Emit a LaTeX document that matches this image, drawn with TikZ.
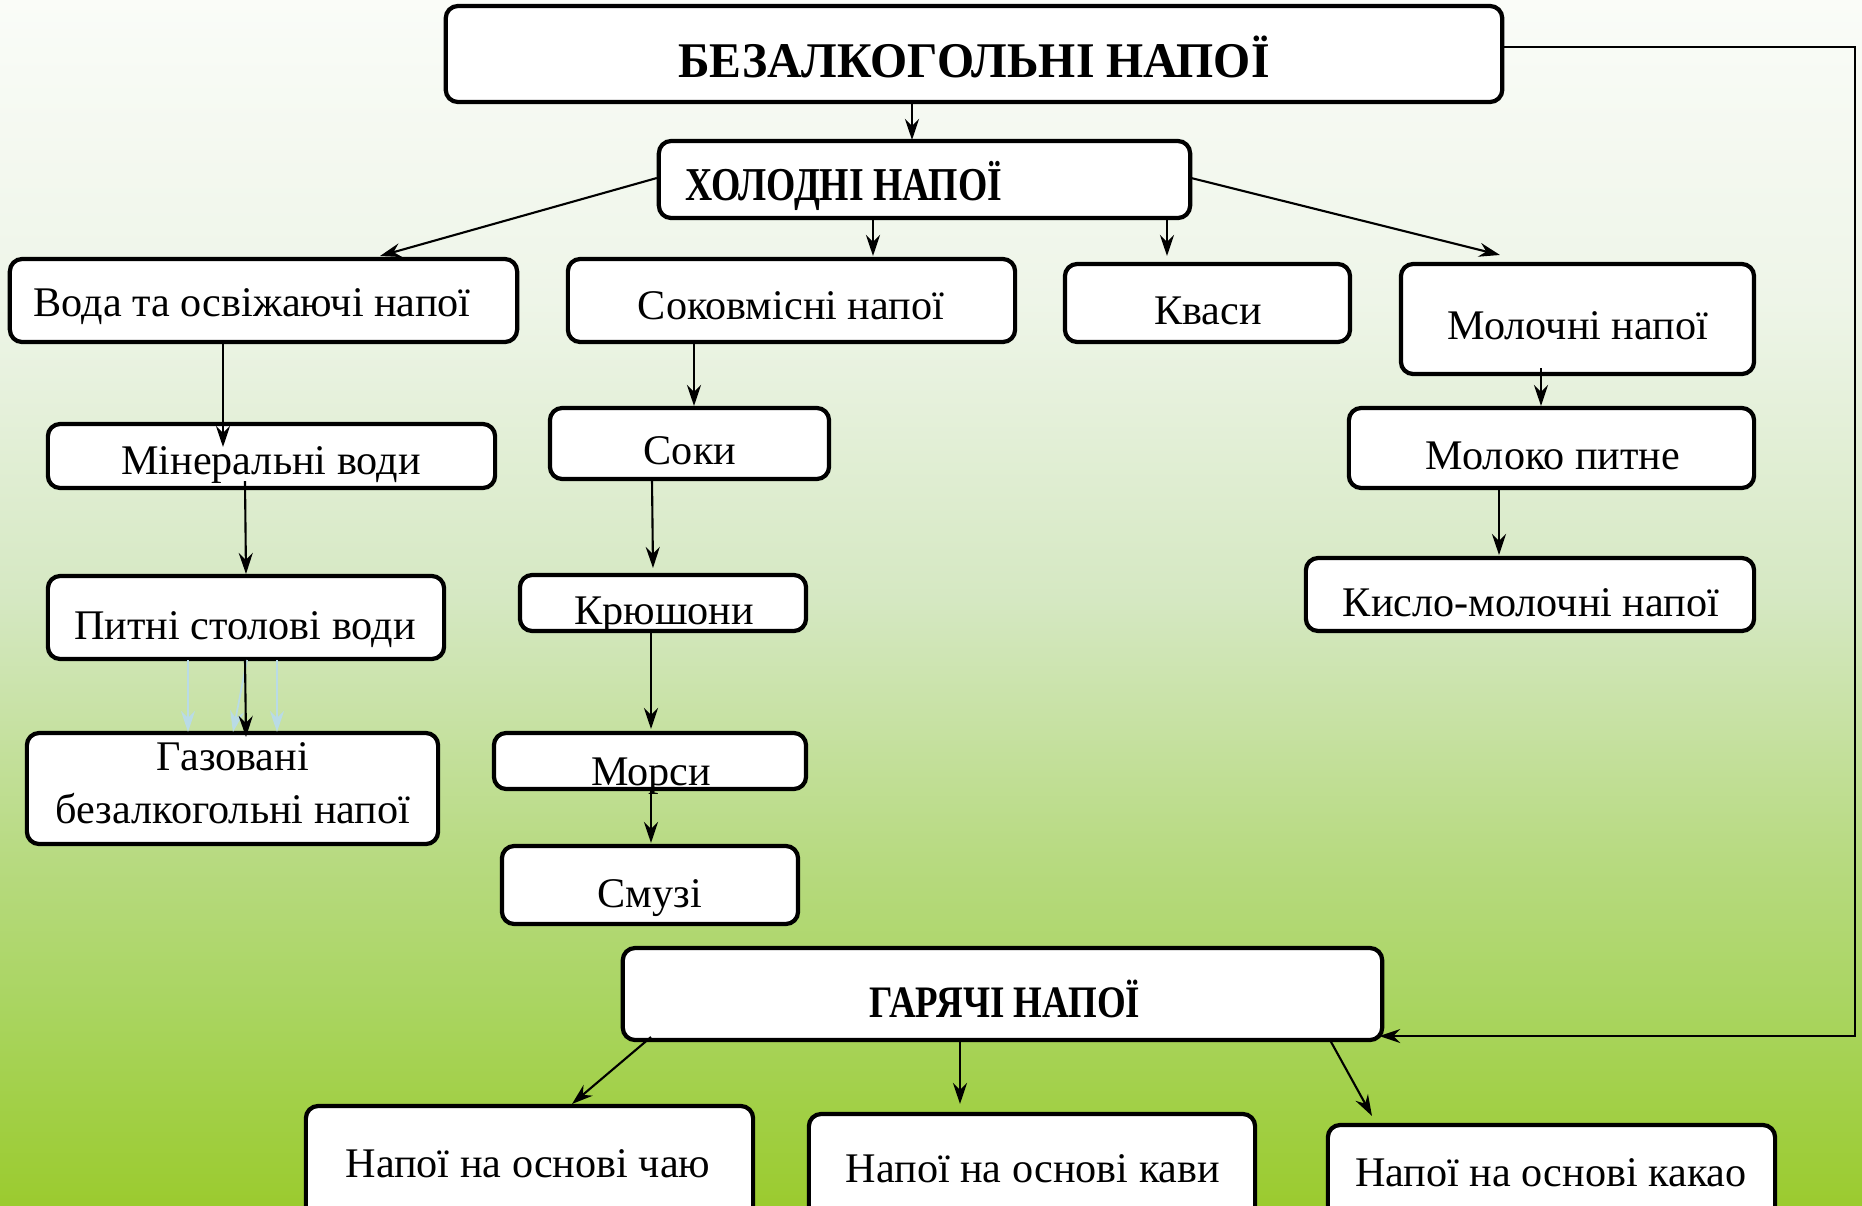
\documentclass[tikz,border=0pt]{standalone}
\usepackage{fontspec}
\usepackage{graphicx}
\setmainfont{Liberation Serif}
\usetikzlibrary{arrows.meta,calc}

% background gradient, stops given bottom to top (path spans 25bp..75bp)
\definecolor{bg0}{HTML}{9BCB2F}
\definecolor{bg1}{HTML}{A2D048}
\definecolor{bg2}{HTML}{AAD562}
\definecolor{bg3}{HTML}{B7DA80}
\definecolor{bg4}{HTML}{D5E8C2}
\definecolor{bg5}{HTML}{EEF5E8}
\definecolor{bg6}{HTML}{FAFCF8}
\definecolor{ghost}{HTML}{B9DBE6}
\pgfdeclareverticalshading{pagebg}{100bp}{%
  color(0bp)=(bg0); color(25bp)=(bg0); color(29.35bp)=(bg1);
  color(33.5bp)=(bg2); color(39.3bp)=(bg3); color(50.1bp)=(bg4);
  color(62.55bp)=(bg5); color(75bp)=(bg6); color(100bp)=(bg6)}

\tikzset{
  box/.style={draw, line width=1.2pt, fill=white, rounded corners=3.5pt,
    inner sep=0pt, outer sep=0pt},
  txt/.style={font=\fontsize{12}{15}\selectfont, inner sep=0pt, align=center},
  arr/.style={-{Stealth[length=6pt,width=4pt,inset=2pt]}, line width=0.6pt},
  ghostarr/.style={arr, draw=ghost, line width=0.5pt},
}
\newcommand{\hdtext}[3]{\scalebox{#1}[1]{\fontsize{#2}{#2}\selectfont\bfseries #3}}

\begin{document}
\begin{tikzpicture}[x=0.01cm, y=-0.01cm]
\useasboundingbox (0,0) rectangle (1862,1205);
\clip (0,0) rectangle (1862,1205);
\shade[shading=pagebg] (0,0) rectangle (1862,1205);

% boxes
\node[box, minimum width=10.56cm, minimum height=0.96cm] (top)    at (974,54) {};
\node[box, minimum width=5.31cm,  minimum height=0.77cm] (cold)   at (924.5,179.5) {};
\node[box, minimum width=5.07cm,  minimum height=0.83cm] (voda)   at (263.5,300.5) {};
\node[box, minimum width=4.47cm,  minimum height=0.83cm] (sok)    at (791.5,300.5) {};
\node[box, minimum width=2.85cm,  minimum height=0.78cm] (kvas)   at (1207.5,303) {};
\node[box, minimum width=3.53cm,  minimum height=1.10cm] (mol)    at (1577.5,319) {};
\node[box, minimum width=4.47cm,  minimum height=0.64cm] (miner)  at (271.5,456) {};
\node[box, minimum width=3.96cm,  minimum height=0.83cm] (pytni)  at (246,617.5) {};
\node[box, minimum width=4.11cm,  minimum height=1.11cm] (gaz)    at (232.5,788.5) {};
\node[box, minimum width=2.79cm,  minimum height=0.71cm] (soky)   at (689.5,443.5) {};
\node[box, minimum width=2.86cm,  minimum height=0.56cm] (kru)    at (663,603) {};
\node[box, minimum width=3.12cm,  minimum height=0.56cm] (mors)   at (650,761) {};
\node[box, minimum width=2.96cm,  minimum height=0.78cm] (smuzi)  at (650,885) {};
\node[box, minimum width=4.05cm,  minimum height=0.80cm] (moloko) at (1551.5,448) {};
\node[box, minimum width=4.48cm,  minimum height=0.73cm] (kyslo)  at (1530,594.5) {};
\node[box, minimum width=7.59cm,  minimum height=0.92cm] (hot)    at (1002.5,994) {};
\node[box, minimum width=4.47cm,  minimum height=1.16cm] (chay)   at (529.5,1164) {};
\node[box, minimum width=4.46cm,  minimum height=1.14cm] (kava)   at (1032,1171) {};
\node[box, minimum width=4.47cm,  minimum height=1.07cm] (kakao)  at (1551.5,1178.5) {};

% labels
\node[txt] (ttop) at (974,57) {\hdtext{0.955}{14.2}{БЕЗАЛКОГОЛЬНІ НАПОЇ}};
\node[txt, anchor=west] (tcold) at (685,186) {\hdtext{0.8}{13.4}{ХОЛОДНІ НАПОЇ}};
\node[txt] (thot) at (1005,999) {\hdtext{0.82}{12.8}{ГАРЯЧІ НАПОЇ}};
\node[txt] (tvoda)   at (252,307)  {Вода та освіжаючі напої};
\node[txt] (tsok)    at (791,306)  {Соковмісні напої};
\node[txt] (tkvas)   at (1208,311) {Кваси};
\node[txt] (tmol)    at (1578,326) {Молочні напої};
\node[txt] (tminer)  at (271,465)  {Мінеральні води};
\node[txt] (tpytni)  at (245,630)  {Питні столові води};
\node[txt] (tgaz)    at (233,783)  {Газовані\\безалкогольні напої};
\node[txt] (tsoky)   at (690,451)  {Соки};
\node[txt] (tkru)    at (664,615)  {Крюшони};
\node[txt] (tmors)   at (651,776)  {Морси};
\node[txt] (tsmuzi)  at (650,898)  {Смузі};
\node[txt] (tmoloko) at (1553,456) {Молоко питне};
\node[txt] (tkyslo)  at (1531,603) {Кисло-молочні напої};
\node[txt] (tchay)   at (528,1164) {Напої на основі чаю};
\node[txt] (tkava)   at (1033,1169) {Напої на основі кави};
\node[txt] (tkakao)  at (1551,1173) {Напої на основі какао};

% connectors
\draw[arr] ($(top.south)+(-62,0)$) -- ($(cold.north)+(-12.5,-1)$);
\draw[arr] ($(cold.west)+(-2,-1.5)$) -- ($(voda.north)+(116.5,-3)$);
\draw[arr] ($(cold.south)+(-51.5,0)$) -- ($(sok.north)+(81.5,-3)$);
\draw[arr] ($(cold.south)+(242.5,0)$) -- ($(kvas.north)+(-40.5,-8)$);
\draw[arr] ($(cold.east)+(1,-1.5)$) -- ($(mol.north)+(-77.5,-9)$);
\draw[arr] ($(voda.south)+(-40.5,0)$) -- ($(miner.north)+(-48.5,23)$);
\draw[arr] ($(miner.south)+(-26.5,-7)$) -- ($(pytni.north)+(0,-2)$);
\draw[ghostarr] ($(pytni.south)+(-58,1)$) -- ($(gaz.north)+(-44.5,-1)$);
\draw[ghostarr] ($(pytni.south)+(1,1)$) -- ($(gaz.north)+(0.5,-1)$);
\draw[ghostarr] ($(pytni.south)+(31,1)$) -- ($(gaz.north)+(44.5,-1)$);
\draw[arr] ($(pytni.south)+(-1,0)$) -- ($(gaz.north)+(13.5,4)$);
\draw[arr] ($(sok.south)+(-97.5,0)$) -- ($(soky.north)+(4.5,-2)$);
\draw[arr] ($(soky.south)+(-37.5,0)$) -- ($(kru.north)+(-10,-7)$);
\draw[arr] ($(kru.south)+(-12,0)$) -- ($(mors.north)+(1,-4)$);
\draw[arr] ($(mors.south)+(1,0)$) -- ($(smuzi.north)+(1,-3)$);
\draw[arr] ($(mol.south)+(-36.5,-6)$) -- ($(moloko.north)+(-10.5,-2)$);
\draw[arr] ($(moloko.south)+(-52.5,0)$) -- ($(kyslo.north)+(-31,-3)$);
\draw[arr] ($(hot.south)+(-351.5,-3)$) -- ($(chay.north)+(42.5,-2)$);
\draw[arr] ($(hot.south)+(-42.5,0)$) -- ($(kava.north)+(-72,-10)$);
\draw[arr] ($(hot.south)+(327.5,0)$) -- ($(kakao.north)+(-179.5,-9)$);
\draw[arr, line width=0.5pt] ($(top.east)+(0,-7)$) -- ++(353,0) |- ($(hot.south east)+(-3,-4)$);
\end{tikzpicture}
\end{document}
